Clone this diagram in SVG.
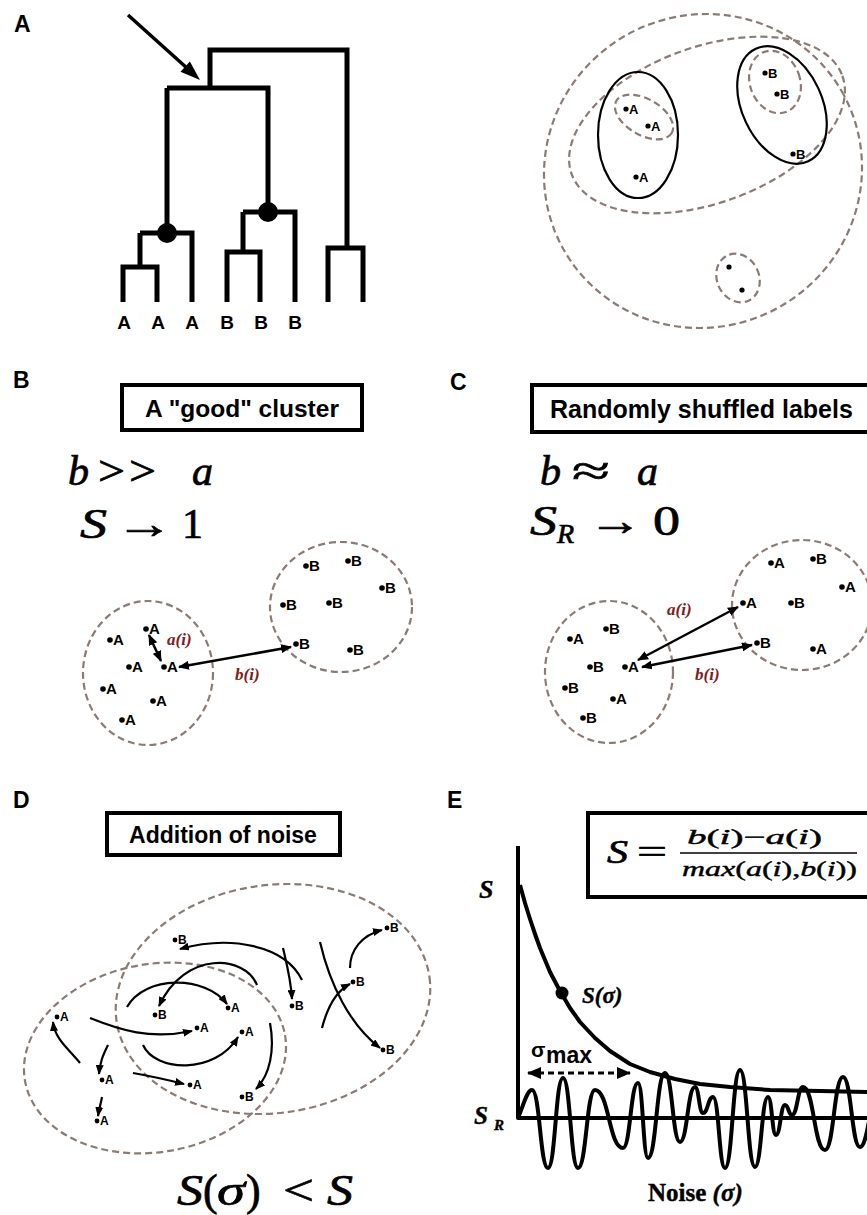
<svg xmlns="http://www.w3.org/2000/svg" width="867" height="1215" viewBox="0 0 867 1215">
<style>
.lbl{font-family:"Liberation Sans",Arial,sans-serif;font-weight:bold;font-size:23px;fill:#000}
.title{font-family:"Liberation Sans",Arial,sans-serif;font-weight:bold;fill:#000}
.box{fill:none;stroke:#000;stroke-width:4}
.tree{fill:none;stroke:#000;stroke-width:5;stroke-linejoin:miter;stroke-linecap:butt}
.leaf{font-family:"Liberation Sans",Arial,sans-serif;font-weight:bold;font-size:19px;text-anchor:middle}
.dash{fill:none;stroke:#8c7b74;stroke-width:2.2;stroke-dasharray:7 4}
.solid{fill:none;stroke:#000;stroke-width:2.2}
.pt{font-family:"Liberation Sans",Arial,sans-serif;font-weight:bold;font-size:15px}
.pts{font-family:"Liberation Sans",Arial,sans-serif;font-weight:bold;font-size:13px}
.ptd{font-family:"Liberation Sans",Arial,sans-serif;font-weight:bold;font-size:12px}
.math{font-family:"Liberation Serif","Times New Roman",serif;fill:#000;stroke:#000;stroke-width:0.7}
.ser{font-family:"Liberation Serif","Times New Roman",serif;fill:#000;font-weight:bold;stroke:#000;stroke-width:0.4}
.it{font-style:italic}
.red{font-family:"Liberation Serif","Times New Roman",serif;font-style:italic;font-weight:bold;font-size:17px;fill:#7a2020}
.arr{fill:none;stroke:#000;stroke-width:2.5}
.arrD{fill:none;stroke:#000;stroke-width:2.2}
.curve{fill:none;stroke:#000;stroke-width:4;stroke-linejoin:round}
</style>
<defs>
<marker id="ah" viewBox="0 0 11 9" refX="10" refY="4.5" markerWidth="11" markerHeight="9" markerUnits="userSpaceOnUse" orient="auto-start-reverse"><path d="M0,0 L11,4.5 L0,9 z" fill="#000"/></marker>
<marker id="ahs" viewBox="0 0 10 8" refX="9" refY="4" markerWidth="10" markerHeight="8" markerUnits="userSpaceOnUse" orient="auto-start-reverse"><path d="M0,0 L10,4 L0,8 z" fill="#000"/></marker>
<marker id="ahE" viewBox="0 0 14 12" refX="13" refY="6" markerWidth="14" markerHeight="12" markerUnits="userSpaceOnUse" orient="auto-start-reverse"><path d="M0,0 L14,6 L0,12 z" fill="#000"/></marker>
</defs>
<rect width="867" height="1215" fill="#fff"/>

<!-- Panel labels -->
<g id="panel-labels">
<text class="lbl" x="14" y="32">A</text>
<text class="lbl" x="13" y="388">B</text>
<text class="lbl" x="450" y="390">C</text>
<text class="lbl" x="13" y="808">D</text>
<text class="lbl" x="447" y="808">E</text>
</g>

<!-- Panel A: dendrogram -->
<g id="dendrogram">
<path class="tree" d="M123,302 V267 H157 V302 M140,267 V233 M140,233 H192 V302 M167,233 V88 M167,88 H268 V212 M243,212 H295 V302 M243,212 V252 M227,302 V252 H260 V302 M210,88 V50 H347 V248 M328,302 V248 H363 V302"/>
<circle cx="167" cy="233" r="10"/>
<circle cx="268" cy="212" r="10"/>
<text class="leaf" x="124" y="329">A</text>
<text class="leaf" x="158" y="329">A</text>
<text class="leaf" x="192" y="329">A</text>
<text class="leaf" x="227" y="329">B</text>
<text class="leaf" x="261" y="329">B</text>
<text class="leaf" x="295" y="329">B</text>
</g>

<!-- Panel A: nested clusters -->
<g id="clusters-A">
<ellipse class="dash" cx="703" cy="171" rx="160" ry="156" transform="rotate(-30 703 171)"/>
<ellipse class="dash" cx="707" cy="125" rx="144" ry="78" transform="rotate(-20 707 125)"/>
<ellipse class="solid" cx="638" cy="135" rx="40" ry="63"/>
<ellipse class="dash" cx="644" cy="117" rx="32" ry="18" transform="rotate(30 644 117)"/>
<ellipse class="solid" cx="782" cy="105" rx="40" ry="62" transform="rotate(-25 782 105)"/>
<ellipse class="dash" cx="775" cy="82" rx="25" ry="32" transform="rotate(-20 775 82)"/>
<ellipse class="dash" cx="738" cy="278" rx="21" ry="25" transform="rotate(-25 738 278)"/>
<circle cx="626" cy="109" r="2.6"/><text class="pts" x="629" y="114">A</text>
<circle cx="648" cy="126" r="2.6"/><text class="pts" x="651" y="131">A</text>
<circle cx="636" cy="177" r="2.6"/><text class="pts" x="639" y="182">A</text>
<circle cx="765" cy="73" r="2.6"/><text class="pts" x="768" y="78">B</text>
<circle cx="777" cy="94" r="2.6"/><text class="pts" x="780" y="99">B</text>
<circle cx="793" cy="154" r="2.6"/><text class="pts" x="796" y="159">B</text>
<circle cx="729" cy="267" r="2.6"/>
<circle cx="742" cy="290" r="2.6"/>
</g>

<!-- Panel B -->
<g id="title-B">
<rect class="box" x="122" y="385" width="240" height="45"/>
<text class="title" style="font-size:24.5px" x="242" y="417" text-anchor="middle">A "good" cluster</text>
</g>
<g id="math-B">
<text class="math it" style="font-size:42px" x="68" y="485">b</text>
<text class="math" style="font-size:42px" x="98" y="485" textLength="27" lengthAdjust="spacingAndGlyphs">&gt;</text>
<text class="math" style="font-size:42px" x="129" y="485" textLength="27" lengthAdjust="spacingAndGlyphs">&gt;</text>
<text class="math it" style="font-size:42px" x="192" y="485">a</text>
<text class="math it" style="font-size:42px" x="80" y="538" textLength="27" lengthAdjust="spacingAndGlyphs">S</text>
<text class="math" style="font-size:42px" x="115" y="538" textLength="58" lengthAdjust="spacingAndGlyphs">→</text>
<text class="math" style="font-size:42px" x="182" y="538">1</text>
</g>
<g id="cluster-B-left">
<ellipse class="dash" cx="148" cy="673" rx="65" ry="72"/>
<circle cx="110" cy="640" r="2.8"/><text class="pt" x="113" y="645">A</text>
<circle cx="146" cy="629" r="2.8"/><text class="pt" x="149" y="634">A</text>
<circle cx="129" cy="667" r="2.8"/><text class="pt" x="132" y="672">A</text>
<circle cx="164" cy="667" r="2.8"/><text class="pt" x="167" y="672">A</text>
<circle cx="103" cy="689" r="2.8"/><text class="pt" x="106" y="694">A</text>
<circle cx="153" cy="701" r="2.8"/><text class="pt" x="156" y="706">A</text>
<circle cx="122" cy="720" r="2.8"/><text class="pt" x="125" y="725">A</text>
</g>
<g id="cluster-B-right">
<ellipse class="dash" cx="341" cy="607" rx="71" ry="65"/>
<circle cx="306" cy="566" r="2.8"/><text class="pt" x="309" y="571">B</text>
<circle cx="348" cy="561" r="2.8"/><text class="pt" x="351" y="566">B</text>
<circle cx="382" cy="588" r="2.8"/><text class="pt" x="385" y="593">B</text>
<circle cx="283" cy="605" r="2.8"/><text class="pt" x="286" y="610">B</text>
<circle cx="329" cy="603" r="2.8"/><text class="pt" x="332" y="608">B</text>
<circle cx="296" cy="644" r="2.8"/><text class="pt" x="299" y="649">B</text>
<circle cx="350" cy="650" r="2.8"/><text class="pt" x="353" y="655">B</text>
</g>
<g id="labels-B">
<text class="red" x="167" y="645">a(i)</text>
<text class="red" x="235" y="680">b(i)</text>
</g>

<!-- Panel C -->
<g id="title-C">
<rect class="box" x="532" y="385" width="340" height="47"/>
<text class="title" style="font-size:25px" x="550" y="418">Randomly shuffled labels</text>
</g>
<g id="math-C">
<text class="math it" style="font-size:42px" x="540" y="485">b</text>
<text class="math" style="font-size:42px" x="572" y="485" textLength="38" lengthAdjust="spacingAndGlyphs">≈</text>
<text class="math it" style="font-size:42px" x="637" y="485">a</text>
<text class="math it" style="font-size:42px" x="530" y="535" textLength="27" lengthAdjust="spacingAndGlyphs">S</text>
<text class="math it" style="font-size:28px" x="557" y="543">R</text>
<text class="math" style="font-size:42px" x="588" y="535" textLength="54" lengthAdjust="spacingAndGlyphs">→</text>
<text class="math" style="font-size:42px" x="653" y="535" textLength="27" lengthAdjust="spacingAndGlyphs">0</text>
</g>
<g id="cluster-C-left">
<ellipse class="dash" cx="609" cy="672" rx="64" ry="71"/>
<circle cx="570" cy="639" r="2.8"/><text class="pt" x="573" y="644">A</text>
<circle cx="606" cy="629" r="2.8"/><text class="pt" x="609" y="634">B</text>
<circle cx="590" cy="667" r="2.8"/><text class="pt" x="593" y="672">B</text>
<circle cx="625" cy="667" r="2.8"/><text class="pt" x="628" y="672">A</text>
<circle cx="565" cy="688" r="2.8"/><text class="pt" x="568" y="693">B</text>
<circle cx="613" cy="699" r="2.8"/><text class="pt" x="616" y="704">A</text>
<circle cx="583" cy="718" r="2.8"/><text class="pt" x="586" y="723">B</text>
</g>
<g id="cluster-C-right">
<ellipse class="dash" cx="802" cy="605" rx="70" ry="65"/>
<circle cx="771" cy="563" r="2.8"/><text class="pt" x="774" y="568">A</text>
<circle cx="813" cy="559" r="2.8"/><text class="pt" x="816" y="564">B</text>
<circle cx="842" cy="587" r="2.8"/><text class="pt" x="845" y="592">A</text>
<circle cx="743" cy="603" r="2.8"/><text class="pt" x="746" y="608">A</text>
<circle cx="791" cy="603" r="2.8"/><text class="pt" x="794" y="608">B</text>
<circle cx="757" cy="643" r="2.8"/><text class="pt" x="760" y="648">B</text>
<circle cx="813" cy="649" r="2.8"/><text class="pt" x="816" y="654">A</text>
</g>
<g id="labels-C">
<text class="red" x="667" y="615">a(i)</text>
<text class="red" x="695" y="680">b(i)</text>
</g>

<!-- Panel D -->
<g id="title-D">
<rect class="box" x="107" y="813" width="233" height="42"/>
<text class="title" style="font-size:23px" x="223" y="843" text-anchor="middle">Addition of noise</text>
</g>
<g id="clusters-D">
<ellipse class="dash" cx="273" cy="999" rx="158" ry="114" transform="rotate(-8 273 999)"/>
<ellipse class="dash" cx="155" cy="1058" rx="132" ry="94" transform="rotate(-10 155 1058)"/>
<circle cx="175" cy="940" r="2.4"/><text class="ptd" x="178" y="944">B</text>
<circle cx="292" cy="1006" r="2.4"/><text class="ptd" x="295" y="1010">B</text>
<circle cx="353" cy="982" r="2.4"/><text class="ptd" x="356" y="986">B</text>
<circle cx="387" cy="928" r="2.4"/><text class="ptd" x="390" y="932">B</text>
<circle cx="383" cy="1050" r="2.4"/><text class="ptd" x="386" y="1054">B</text>
<circle cx="57" cy="1017" r="2.4"/><text class="ptd" x="60" y="1021">A</text>
<circle cx="155" cy="1015" r="2.4"/><text class="ptd" x="158" y="1019">B</text>
<circle cx="228" cy="1008" r="2.4"/><text class="ptd" x="231" y="1012">A</text>
<circle cx="197" cy="1028" r="2.4"/><text class="ptd" x="200" y="1032">A</text>
<circle cx="242" cy="1032" r="2.4"/><text class="ptd" x="245" y="1036">A</text>
<circle cx="102" cy="1080" r="2.4"/><text class="ptd" x="105" y="1084">A</text>
<circle cx="190" cy="1085" r="2.4"/><text class="ptd" x="193" y="1089">A</text>
<circle cx="242" cy="1097" r="2.4"/><text class="ptd" x="245" y="1101">B</text>
<circle cx="97" cy="1121" r="2.4"/><text class="ptd" x="100" y="1125">A</text>
</g>
<g id="math-D">
<text class="math it" style="font-size:44px" x="177" y="1205" textLength="26" lengthAdjust="spacingAndGlyphs">S</text>
<text class="math" style="font-size:44px" x="203" y="1205">(</text>
<text class="math it" style="font-size:44px" x="217" y="1205" textLength="28" lengthAdjust="spacingAndGlyphs">σ</text>
<text class="math" style="font-size:44px" x="246" y="1205">)</text>
<text class="math" style="font-size:44px" x="283" y="1205" textLength="31" lengthAdjust="spacingAndGlyphs">&lt;</text>
<text class="math it" style="font-size:44px" x="327" y="1205" textLength="26" lengthAdjust="spacingAndGlyphs">S</text>
</g>

<!-- Panel E -->
<g id="formula-E">
<rect class="box" x="588" y="813" width="284" height="84"/>
<text class="math it" style="font-size:34px" x="607" y="863" textLength="21" lengthAdjust="spacingAndGlyphs">S</text>
<text class="math" style="font-size:34px" x="637" y="863" textLength="30" lengthAdjust="spacingAndGlyphs">=</text>
<text class="math" style="font-size:21px;stroke-width:0.4" x="687" y="844" textLength="135" lengthAdjust="spacingAndGlyphs"><tspan class="it">b</tspan>(<tspan class="it">i</tspan>)−<tspan class="it">a</tspan>(<tspan class="it">i</tspan>)</text>
<line x1="680" y1="853" x2="857" y2="853" stroke="#000" stroke-width="1.6"/>
<text class="math" style="font-size:21px;stroke-width:0.4" x="682" y="876" textLength="175" lengthAdjust="spacingAndGlyphs"><tspan class="it">max</tspan>(<tspan class="it">a</tspan>(<tspan class="it">i</tspan>),<tspan class="it">b</tspan>(<tspan class="it">i</tspan>))</text>
</g>
<g id="plot-E">
<path class="curve" d="M518,846 V1118 H867"/>
<path class="curve" d="M520,885 L525,903 L530,919 L535,934 L540,948 L550,972 L560,991 L570,1008 L580,1022 L595,1038 L610,1051 L630,1064 L650,1072 L675,1079 L700,1084 L730,1087 L770,1090 L820,1091 L867,1092"/>
<path class="curve" d="M518,1118 C524,1104 527,1090 532,1090 C540,1090 540,1168 548,1168 C555.5,1168 555.5,1078 563,1078 C570.5,1078 570.5,1168 578,1168 C586.5,1168 586.5,1090 595,1090 C609,1090 609,1148 623,1148 C630.5,1148 630.5,1083 638,1083 C643,1083 643,1158 648,1158 C656.5,1158 656.5,1073 665,1073 C672.5,1073 672.5,1142 680,1142 C687.5,1142 687.5,1087 695,1087 C699,1087 699,1113 703,1113 C708,1113 708,1097 713,1097 C719,1097 719,1168 725,1168 C732.5,1168 732.5,1070 740,1070 C747.5,1070 747.5,1167 755,1167 C761.5,1167 761.5,1097 768,1097 C772,1097 772,1135 776,1135 C780.5,1135 780.5,1105 785,1105 C788.5,1105 788.5,1115 792,1115 C797.5,1115 797.5,1087 803,1087 C814,1087 814,1150 825,1150 C834,1150 834,1077 843,1077 C851.5,1077 851.5,1147 860,1147 C866,1147 868,1120 872,1110"/>
<circle cx="562" cy="993" r="6.5"/>
<text class="ser it" style="font-size:23px" x="582" y="1003">S(σ)</text>
<text class="ser it" style="font-size:26px" x="479" y="898">S</text>
<text class="ser it" style="font-size:25px" x="474" y="1124">S</text>
<text class="ser it" style="font-size:15px" x="494" y="1130">R</text>
<text font-family="Liberation Sans,Arial,sans-serif" font-weight="bold" font-size="21" x="531" y="1057">σ</text>
<text font-family="Liberation Sans,Arial,sans-serif" font-weight="bold" font-size="23" x="546" y="1063">max</text>
<text class="ser" style="font-size:25px" x="648" y="1201">Noise <tspan class="it">(σ)</tspan></text>
</g>

<!-- Connectors -->
<g id="connectors">
<line x1="128" y1="15" x2="188" y2="69" stroke="#000" stroke-width="3.5"/>
<polygon points="200,80 180.5,71.8 189.9,61.4" fill="#000"/>
<path class="arr" d="M149,635 L161,661" marker-start="url(#ah)" marker-end="url(#ah)"/>
<path class="arr" d="M179,667 L291,647" marker-start="url(#ah)" marker-end="url(#ah)"/>
<path class="arr" d="M638,660 L738,607" marker-start="url(#ah)" marker-end="url(#ah)"/>
<path class="arr" d="M642,667 L752,645" marker-start="url(#ah)" marker-end="url(#ah)"/>
<path class="arrD" d="M302,980 C285,945 230,935 180,949" marker-end="url(#ahs)"/>
<path class="arrD" d="M283,948 C287,965 291,980 292,999" marker-end="url(#ahs)"/>
<path class="arrD" d="M257,985 C245,955 185,950 159,1006" marker-end="url(#ahs)"/>
<path class="arrD" d="M127,1007 C145,975 205,975 227,1004" marker-end="url(#ahs)"/>
<path class="arrD" d="M90,1018 C120,1030 150,1040 192,1031" marker-end="url(#ahs)"/>
<path class="arrD" d="M322,1028 C328,1005 338,990 350,984" marker-end="url(#ahs)"/>
<path class="arrD" d="M320,942 C330,985 350,1025 380,1048" marker-end="url(#ahs)"/>
<path class="arrD" d="M350,968 C350,950 362,935 382,930" marker-end="url(#ahs)"/>
<path class="arrD" d="M80,1063 C70,1050 55,1040 53,1022" marker-end="url(#ahs)"/>
<path class="arrD" d="M108,1045 C103,1055 100,1062 99,1074" marker-end="url(#ahs)"/>
<path class="arrD" d="M143,1045 C155,1072 215,1075 238,1037" marker-end="url(#ahs)"/>
<path class="arrD" d="M270,1023 C275,1050 270,1075 256,1089" marker-end="url(#ahs)"/>
<path class="arrD" d="M133,1073 C150,1076 168,1080 184,1084" marker-end="url(#ahs)"/>
<path class="arrD" d="M102,1097 C101,1103 99,1109 98,1116" marker-end="url(#ahs)"/>
<path d="M528,1073 L630,1073" fill="none" stroke="#000" stroke-width="3" stroke-dasharray="6 4" marker-start="url(#ahE)" marker-end="url(#ahE)"/>
</g>
</svg>
